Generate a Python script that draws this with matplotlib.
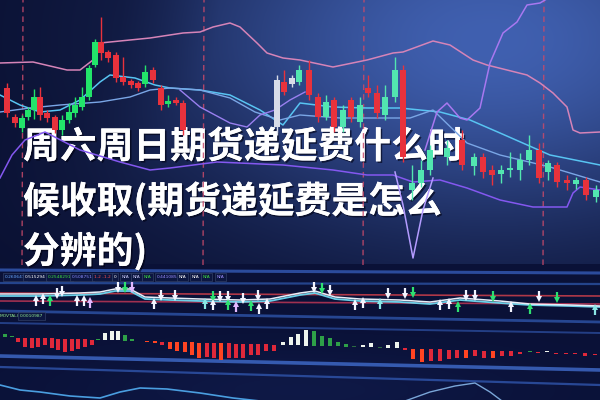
import numpy as np
import matplotlib
matplotlib.use("Agg")
import matplotlib.pyplot as plt
import matplotlib.patheffects as pe

plt.rcParams['font.family'] = ['Noto Sans CJK SC', 'DejaVu Sans']

# ---------------- data ----------------
title_lines = ["周六周日期货递延费什么时", "候收取(期货递延费是怎么", "分辨的)"]

# candlesticks: time position, open, close, high, low, kind
candle_t = [7, 15, 22, 28, 34, 40, 47, 55, 62, 69, 75, 82, 89, 95, 101, 108, 116, 123, 131, 138,
            145, 153, 161, 168, 176, 183, 277, 284, 292, 299, 309, 318, 326, 334, 343, 351, 360,
            368, 377, 385, 395, 403, 412, 421, 430, 447, 462, 474, 483, 492, 501, 510, 520, 529,
            539, 548, 557, 567, 576, 586, 596]
candle_open = [177, 148, 137, 148, 155, 168, 152, 148, 135, 145, 152, 158, 168, 200, 223, 213, 210, 188, 184, 182,
               181, 195, 177, 161, 165, 162, 138, 183, 181, 183, 195, 168, 148, 165, 138, 165, 143,
               177, 172, 150, 168, 195, 75, 82, 95, 108, 125, 99, 108, 95, 91, 95, 95, 105,
               115, 93, 100, 85, 81, 85, 68]
candle_close = [152, 142, 147, 155, 168, 150, 147, 135, 145, 153, 160, 168, 197, 223, 212, 207, 187, 183, 180, 177,
                193, 185, 160, 164, 162, 135, 185, 173, 187, 195, 170, 148, 163, 138, 155, 148, 160,
                172, 152, 168, 195, 108, 82, 95, 115, 117, 100, 108, 93, 90, 95, 97, 105, 115,
                87, 102, 83, 82, 85, 70, 75]
candle_high = [182, 151, 150, 158, 176, 178, 155, 150, 150, 162, 168, 178, 200, 226, 248, 215, 213, 208, 186, 184,
               200, 198, 180, 170, 168, 165, 190, 195, 190, 200, 205, 172, 170, 168, 160, 168, 168,
               190, 180, 180, 208, 200, 100, 105, 120, 125, 135, 112, 112, 100, 100, 113, 112, 130,
               122, 105, 103, 90, 88, 88, 80]
candle_low = [148, 138, 133, 145, 146, 145, 143, 132, 130, 142, 148, 155, 165, 198, 205, 203, 183, 180, 177, 174,
              178, 182, 155, 158, 160, 130, 130, 170, 178, 180, 165, 143, 145, 133, 133, 143, 138,
              168, 147, 145, 163, 103, 65, 78, 90, 100, 95, 90, 87, 80, 82, 88, 85, 100,
              82, 85, 78, 75, 76, 65, 63]
candle_kind = ['r', 'r', 'g', 'g', 'g', 'r', 'r', 'r', 'g', 'g', 'g', 'g', 'g', 'g', 'r', 'r', 'r', 'r', 'r', 'r',
               'g', 'r', 'r', 'g', 'r', 'r', 'w', 'r', 'w', 't', 'r', 'r', 't', 'r', 't', 'r', 't',
               'r', 'r', 't', 't', 'r', 't', 't', 't', 't', 'r', 't', 'r', 'r', 't', 't', 't', 't',
               'r', 't', 'r', 'r', 't', 'r', 't']

# moving-average style lines (time, price)
ma_pink_t = [0, 33, 67, 80, 93, 100, 110, 150, 183, 200, 213, 230, 240, 257, 267, 283, 300, 333, 367, 393, 403,
             433, 450, 473, 487, 507, 527, 540, 553, 567, 573, 580, 600]
ma_pink_v = [202, 203, 195, 195, 205, 222, 223, 227, 232, 233, 238, 242, 238, 222, 212, 207, 205, 198, 205, 212, 213,
             224, 220, 205, 200, 195, 190, 182, 172, 158, 135, 132, 133]
ma_cyan_t = [0, 20, 40, 60, 80, 100, 110, 135, 155, 170, 200, 230, 260, 283, 300, 333, 367, 400, 440, 470, 500, 550, 600]
ma_cyan_v = [170, 160, 153, 155, 165, 183, 190, 187, 180, 177, 175, 170, 155, 140, 162, 158, 157, 157, 153, 145, 132, 110, 100]
ma_blue_t = [0, 30, 60, 100, 130, 150, 170, 200, 230, 255, 280, 300, 340, 380, 410, 433, 467, 500, 550, 600]
ma_blue_v = [153, 157, 160, 163, 168, 175, 177, 175, 167, 153, 145, 150, 147, 147, 147, 155, 122, 110, 98, 83]
violet_up_t = [425, 437, 447, 460, 467, 480, 490, 503, 517, 527, 540, 550]
violet_up_v = [115, 153, 162, 147, 145, 157, 202, 232, 243, 260, 262, 268]
violet_mid_t = [180, 200, 230, 247, 260, 275, 290, 305]
violet_mid_v = [175, 158, 142, 138, 150, 155, 165, 173]
violet_low_t = [0, 12, 25, 45, 80, 120, 150, 170, 217, 283, 333, 367, 393, 413, 440, 467, 500, 533, 567, 573, 580, 600]
violet_low_v = [87, 110, 125, 133, 115, 103, 95, 97, 103, 100, 95, 90, 90, 83, 85, 77, 65, 58, 58, 72, 78, 75]
violet_v_t = [395, 403, 413, 423, 433]
violet_v_v = [93, 60, 7, 55, 87]
divider_t = [22, 203, 363, 543]

# indicator panel
label_text = ["0.260647", "0.515294", "0.2548291", "0.508751", "1.2 -1.2", "0", "N/A", "N/A", "N/A",
              "0.441085", "N/A", "N/A", "N/A", "N/A"]
label_x = [5, 25, 48, 72, 94, 114, 122, 133, 144, 157, 179, 192, 203, 217]
label_color = ['#6aa8ff', '#ffffff', '#40e040', '#8c8cff', '#ff5050', '#ffffff', '#d0d0ff', '#d0d0ff', '#40e040',
               '#9a8cff', '#ffffff', '#ffffff', '#40e040', '#a090ff']
ind_t = [0, 40, 80, 100, 115, 130, 145, 170, 200, 240, 270, 300, 315, 335, 360, 400, 430, 460, 500, 530, 570, 600]
ind_white = [294, 294, 293, 292, 289, 289, 297, 298, 299, 300, 299, 293, 291, 297, 299, 300, 302, 298, 301, 304, 305, 306]
ind_cyan = [296, 296, 295, 294, 291, 291, 299, 300, 301, 302, 301, 295, 293, 299, 301, 302, 304, 300, 303, 305, 306, 307]
arrow_t = [36, 43, 50, 57, 62, 77, 84, 90, 118, 125, 132, 154, 161, 175, 205, 213, 213, 220, 228, 228, 236, 243,
           251, 258, 259, 267, 314, 322, 330, 355, 363, 380, 388, 405, 413, 440, 449, 458, 466, 475, 493, 511,
           530, 539, 557, 595]
arrow_y = [301, 299, 301, 293, 291, 301, 301, 303, 287, 287, 287, 304, 295, 295, 304, 296, 305, 296, 296, 305, 307, 298,
           306, 295, 309, 304, 287, 288, 290, 305, 303, 304, 293, 293, 292, 305, 304, 307, 295, 295, 296, 307,
           309, 296, 297, 310]
arrow_dir = [1, 1, 1, -1, -1, 1, 1, 1, -1, -1, -1, 1, -1, -1, 1, -1, 1, -1, -1, 1, 1, -1,
             1, -1, 1, 1, -1, -1, -1, 1, 1, 1, -1, -1, -1, 1, 1, 1, -1, -1, -1, 1,
             1, -1, -1, 1]
arrow_kind = ['w', 'w', 'g', 'w', 'w', 'w', 'w', 'p', 'w', 'g', 'p', 'w', 'w', 'w', 't', 'g', 'w', 'w', 'w', 'g', 'p', 'w',
              'g', 'w', 'w', 'w', 'w', 'g', 'w', 'w', 'w', 't', 'w', 'w', 'g', 'w', 'w', 'g', 'w', 'w', 'g', 'w',
              'g', 'w', 'g', 't']

# histogram panel
hist_t = [5, 12, 18, 25, 32, 38, 45, 52, 58, 65, 72, 78, 85, 92, 98, 105, 112, 118, 125, 132,
          147, 155, 162, 170, 177, 185, 192, 199, 207, 214, 221, 229, 236, 243, 251, 258, 266, 274,
          283, 291, 298, 306, 314, 322, 330, 338, 346, 354, 363, 371, 380, 388, 397,
          405, 413, 422, 431, 440, 449, 457, 466, 475, 484, 493, 502, 511, 520, 530, 538, 547, 556,
          566, 575, 585, 595]
hist_v = [3, 1, -4, -9, -10, -9, -7, -10, -11, -13, -12, -10, -8, -5, 1, 7, 9, 9, 6, 2,
          -1, -1.5, -3, -7, -9, -10, -13, -15, -14, -15, -17, -15, -14, -14, -11, -11, -7, -6,
          3, 8, 11, 16, 15, 10, 8, 4, 3, 1, 2, 4, 1, 3, 6,
          -2, -10, -13, -12, -12, -9, -8, -8, -6, -7, -7, -5, -5, -2, 1, -1, 1, -1,
          -1.5, -1, -3, -1]
hist_kind = ['g', 'g', 'r', 'r', 'r', 'r', 'r', 'r', 'r', 'r', 'r', 'r', 'r', 'r', 'g', 'w', 'w', 'w', 'g', 'g',
             'o', 'o', 'r', 'o', 'o', 'o', 'o', 'o', 'r', 'r', 'o', 'r', 'r', 'r', 'r', 'r', 'r', 'r',
             'w', 'w', 'w', 'w', 'g', 'g', 'g', 'g', 'g', 'd', 'w', 'w', 'd', 'w', 'w',
             'r', 'o', 'o', 'r', 'r', 'r', 'r', 'o', 'r', 'r', 'o', 'r', 'r', 'r', 'g', 'r', 'w', 'r',
             'r', 'r', 'r', 'r']
bottom_curve_t = [0, 20, 40, 70, 100, 120, 140, 167, 200, 233, 260]
bottom_curve_y = [385, 390, 392, 396, 398, 392, 388, 389, 393, 398, 401]
arc_t = [405, 430, 455, 475, 490, 502]
arc_y = [401, 392, 386, 383, 392, 401]

# ---------------- figure ----------------
W, H = 600, 400
fig = plt.figure(figsize=(6, 4), dpi=100)
ax = fig.add_axes([0, 0, 1, 1])
ax.set_xlim(0, W)
ax.set_ylim(H, 0)
ax.axis('off')

# background
yy, xx = np.mgrid[0:H, 0:W] + 0.5
dark = np.array([9, 15, 48]) / 255
light = np.array([64, 96, 176]) / 255
b = np.exp(-(((xx - 490) / 330) ** 2 + ((yy - 40) / 190) ** 2))
corner = np.clip(np.hypot(xx, yy) / 220, 0.55, 1.0)
img = dark + (b * corner)[..., None] * (light - dark)
low_col = np.array([10, 17, 55]) / 255
glow = 0.06 * np.exp(-(((xx - 300) / 220) ** 2 + ((yy - 390) / 40) ** 2))
img_low = low_col + glow[..., None] * np.array([0.3, 0.5, 1.0])
mask = (yy >= 264)[..., None]
img = np.where(mask, img_low, img)
ax.imshow(np.clip(img, 0, 1), extent=(0, W, H, 0), aspect='auto', zorder=0, interpolation='bilinear')

# price panel axes
axp = fig.add_axes([0, 1 - 265 / 400, 1, 265 / 400])
axp.set_xlim(0, W)
axp.set_ylim(0, 265)
axp.axis('off')
axp.patch.set_alpha(0)

for t in divider_t:
    axp.plot([t, t + 1], [0, 265], color='#c84a6a', lw=1.0, ls=(0, (4, 3)), alpha=0.85, zorder=1)

axp.plot(ma_pink_t, ma_pink_v, color='#d684b8', lw=1.1, zorder=2)
axp.plot(ma_cyan_t, ma_cyan_v, color='#58c4f2', lw=1.1, zorder=2)
axp.plot(ma_blue_t, ma_blue_v, color='#7aa6e6', lw=1.0, zorder=2)
axp.plot(violet_up_t, violet_up_v, color='#a878f0', lw=1.1, zorder=2)
axp.plot(violet_mid_t, violet_mid_v, color='#9a80f0', lw=1.0, zorder=2)
axp.plot(violet_low_t, violet_low_v, color='#8458f0', lw=1.1, zorder=2)
axp.plot(violet_v_t, violet_v_v, color='#b49cff', lw=1.1, zorder=2)

kind_color = {'r': '#e8323c', 'g': '#22e46a', 't': '#52e6b0', 'w': '#d8dce8'}
for t, o, c, h, l, k in zip(candle_t, candle_open, candle_close, candle_high, candle_low, candle_kind):
    col = kind_color[k]
    axp.vlines(t, l, h, color=col, lw=1.0, zorder=3)
    axp.bar(t, c - o, bottom=o, width=5.6, color=col, zorder=4, linewidth=0)

# indicator panel
band_color = '#2f52a8'
ax.plot([0, W], [270, 273], color=band_color, lw=2.2, alpha=0.9, zorder=2)
ax.plot([0, W], [283, 284], color='#284a96', lw=1.6, alpha=0.9, zorder=2)
ax.plot([0, W], [311, 322], color='#2a4c9c', lw=2.0, alpha=0.9, zorder=2)
ax.plot([0, W], [323, 333], color='#26448e', lw=1.4, alpha=0.9, zorder=2)
ax.plot([0, W], [356, 370], color='#3a62bc', lw=2.6, alpha=0.9, zorder=2)
ax.plot([0, W], [367, 385], color='#2c4ea0', lw=1.6, alpha=0.9, zorder=2)

for txt, x, col in zip(label_text, label_x, label_color):
    ax.text(x, 277, txt, color=col, fontsize=3.2, ha='left', va='center', family='DejaVu Sans', zorder=5,
            bbox=dict(boxstyle='square,pad=0.35', fc='#0c1640', ec='#3a4a70', lw=0.4))
ax.text(0, 316, "MOVTAL)", color='#90e890', fontsize=3.2, ha='left', va='center', family='DejaVu Sans', zorder=5)
ax.text(20, 316, "0.0010987", color='#90e890', fontsize=3.2, ha='left', va='center', family='DejaVu Sans', zorder=5,
        bbox=dict(boxstyle='square,pad=0.35', fc='#0c1640', ec='#3a4a70', lw=0.4))

ax.plot([0, W], [293, 296], color='#b03848', lw=1.2, zorder=3)
ax.plot([0, W], [301, 304], color='#a03050', lw=1.2, zorder=3)
ax.plot(ind_t, ind_cyan, color='#6ad0e8', lw=1.3, zorder=4)
ax.plot(ind_t, ind_white, color='#e8eef8', lw=1.1, zorder=4)

arrow_color = {'w': '#f2f4ff', 'g': '#2ee070', 'p': '#e2b8ff', 't': '#8ae6e6'}
for t, y, d, k in zip(arrow_t, arrow_y, arrow_dir, arrow_kind):
    col = arrow_color[k]
    tip = y - 5.0 * d
    tail = y + 5.0 * d
    ax.plot([t, t], [tail, tip + 2.5 * d], color=col, lw=1.6, solid_capstyle='butt', zorder=5)
    ax.plot([t], [tip + 2.0 * d], marker='^' if d > 0 else 'v', ms=4.6, color=col, mew=0, zorder=5)

# histogram panel (slightly tilted baseline)
hist_color = {'r': '#e0283a', 'o': '#ff4422', 'g': '#2ea048', 'd': '#2c6a40', 'w': '#eef4ee'}
for t, v, k in zip(hist_t, hist_v, hist_kind):
    base = 337 + 0.028 * t
    ax.bar(t, -v, bottom=base, width=4.8, color=hist_color[k], linewidth=0, zorder=4)

ax.plot(bottom_curve_t, bottom_curve_y, color='#4a9ee0', lw=1.2, zorder=3)
ax.plot(arc_t, arc_y, color='#7aa6d8', lw=1.0, zorder=3)

# title text
title_base = [158, 213, 263]
for line, yb in zip(title_lines, title_base):
    ax.text(23, yb, line, color='white', fontsize=26.5, fontweight='bold', ha='left', va='baseline',
            zorder=10,
            path_effects=[pe.withSimplePatchShadow(offset=(1.2, -1.2), shadow_rgbFace='#000010', alpha=0.6),
                          pe.Normal()])

fig.savefig('out.png', dpi=100)
